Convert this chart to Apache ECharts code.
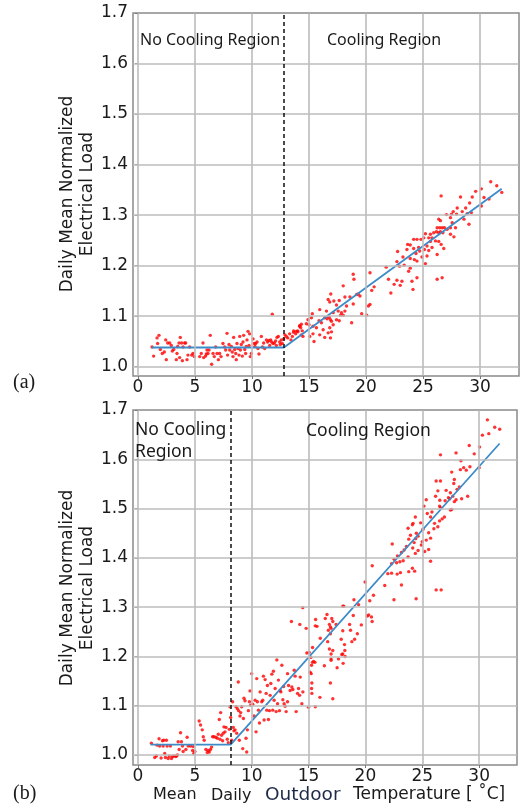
<!DOCTYPE html>
<html><head><meta charset="utf-8">
<script src="https://cdn.jsdelivr.net/npm/echarts@6/dist/echarts.min.js"></script>
<style>html,body{margin:0;padding:0;background:#fff}#c{width:522px;height:812px}</style>
</head><body><div id="c"></div><script>
// tick values
const xTicks = [0, 5, 10, 15, 20, 25, 30];
const yTicks = [1.0, 1.1, 1.2, 1.3, 1.4, 1.5, 1.6, 1.7];

// (a) daily mean outdoor temperature [°C], daily mean normalized load
const topPoints = [
[1.23,1.039],[1.37,1.021],[1.67,1.057],[1.84,1.062],[1.72,1.046],[1.96,1.034],[2.13,1.026],[2.31,1.029],[2.43,1.053],[2.48,1.014],
[2.60,1.047],[2.78,1.047],[2.92,1.042],[3.01,1.031],[3.13,1.034],[3.36,1.014],[3.42,1.026],[3.48,1.040],[3.60,1.047],[3.65,1.018],
[3.71,1.058],[3.83,1.047],[3.89,1.012],[3.95,1.039],[4.09,1.047],[4.18,1.047],[4.30,1.014],[4.38,1.023],[4.53,1.039],[4.71,1.023],
[4.82,1.026],[4.94,1.020],[5.41,1.020],[5.55,1.026],[5.70,1.047],[5.76,1.018],[5.93,1.021],[5.99,1.025],[6.05,1.033],[6.14,1.026],
[6.23,1.033],[6.34,1.062],[6.46,1.005],[6.58,1.026],[6.69,1.020],[6.81,1.039],[6.93,1.026],[7.05,1.014],[7.16,1.026],[7.28,1.020],
[7.45,1.046],[7.60,1.039],[7.69,1.033],[7.81,1.066],[7.86,1.023],[7.98,1.044],[8.04,1.033],[8.19,1.040],[8.27,1.029],[8.33,1.020],
[8.39,1.058],[8.48,1.034],[8.57,1.026],[8.62,1.014],[8.68,1.046],[8.77,1.036],[8.86,1.023],[8.92,1.060],[8.98,1.033],[9.06,1.044],
[9.15,1.021],[9.21,1.049],[9.27,1.062],[9.36,1.034],[9.44,1.026],[9.50,1.040],[9.56,1.053],[9.65,1.070],[9.74,1.042],[9.79,1.065],
[9.85,1.020],[9.94,1.026],[10.09,1.055],[10.20,1.046],[10.26,1.040],[10.32,1.046],[10.44,1.049],[10.52,1.036],[10.61,1.025],[10.82,1.060],
[10.91,1.039],[11.02,1.047],[11.11,1.036],[11.26,1.053],[11.37,1.049],[11.49,1.052],[11.55,1.042],[11.64,1.053],[11.72,1.049],[11.78,1.104],
[11.84,1.046],[11.96,1.047],[12.07,1.051],[12.13,1.042],[12.19,1.058],[12.31,1.060],[12.43,1.049],[12.48,1.044],[12.57,1.053],[12.66,1.046],
[12.78,1.055],[12.89,1.063],[13.01,1.060],[13.13,1.057],[13.30,1.065],[13.42,1.053],[13.54,1.060],[13.65,1.068],[13.83,1.065],[14.00,1.071],
[14.18,1.081],[14.33,1.084],[14.41,1.071],
[30.94,1.366],[31.47,1.358],[31.91,1.345],[30.12,1.352],[29.62,1.347],[28.29,1.336],[29.32,1.336],[26.59,1.338],[30.35,1.335],[29.09,1.324],
[30.79,1.332],[30.12,1.318],[28.74,1.314],[28.00,1.314],[28.44,1.307],[27.65,1.307],[27.50,1.302],[27.06,1.301],[27.94,1.302],[27.41,1.295],
[28.88,1.303],[29.24,1.305],[28.59,1.292],[27.56,1.285],[26.38,1.292],[26.53,1.289],[29.03,1.282],[27.85,1.275],[26.24,1.275],[26.47,1.275],
[26.68,1.275],[26.88,1.275],[27.41,1.275],[27.12,1.272],[26.18,1.267],[26.38,1.265],[26.53,1.267],[26.74,1.265],[25.94,1.265],[27.41,1.262],
[27.71,1.257],[25.65,1.262],[25.21,1.263],[25.50,1.255],[25.79,1.255],[25.06,1.255],[24.82,1.252],[26.09,1.249],[26.38,1.248],[26.59,1.242],
[25.65,1.248],[26.82,1.234],[24.47,1.252],[24.18,1.252],[23.65,1.242],[23.88,1.241],[24.18,1.234],[24.62,1.236],[25.35,1.239],[25.12,1.232],
[25.50,1.230],[25.79,1.236],[26.24,1.222],[24.71,1.229],[24.38,1.224],[24.91,1.217],[25.35,1.219],[23.59,1.232],[22.77,1.228],[23.24,1.217],
[23.88,1.214],[24.24,1.212],[24.47,1.209],[25.21,1.204],[22.71,1.208],[22.94,1.199],[23.35,1.201],[23.88,1.195],[23.74,1.189],[21.77,1.197],
[24.47,1.176],[26.24,1.173],[26.68,1.176],[24.03,1.169],[21.97,1.173],[22.71,1.171],[23.15,1.169],[22.47,1.163],[23.00,1.161],[24.12,1.153],
[22.18,1.146],[18.88,1.183],[18.94,1.173],[18.00,1.160],[20.35,1.186],[20.71,1.158],[20.50,1.151],[19.32,1.144],[19.47,1.140],[19.18,1.143],
[18.59,1.138],[18.15,1.138],[17.65,1.131],[20.35,1.123],[20.21,1.120],[18.88,1.124],[18.29,1.120],[19.62,1.105],[20.06,1.102],[16.91,1.144],
[16.68,1.133],[16.82,1.128],[17.18,1.130],[17.41,1.122],[17.56,1.110],[17.85,1.107],[18.15,1.110],[17.77,1.102],[18.00,1.102],[17.12,1.107],
[16.53,1.110],[16.77,1.098],[16.88,1.093],[16.59,1.095],[16.38,1.097],[15.94,1.113],[15.88,1.091],[15.29,1.105],[15.21,1.097],[14.91,1.093],
[15.00,1.083],[14.77,1.085],[15.35,1.080],[15.65,1.077],[16.24,1.073],[16.82,1.077],[16.68,1.067],[16.97,1.069],[16.88,1.057],[16.38,1.058],
[15.94,1.063],[15.35,1.065],[15.06,1.060],[15.44,1.050],[18.74,1.087],[17.41,1.093],[17.12,1.083],[17.65,1.091],[16.97,1.090],[16.09,1.087],
[14.47,1.060],[14.27,1.077],[14.18,1.080],[14.32,1.063],[14.03,1.069],[13.88,1.070],[13.65,1.071]
];

// (b) daily mean outdoor temperature [°C], daily mean normalized load
const bottomPoints = [
[1.18,1.024],[1.47,0.995],[1.62,0.998],[1.68,1.020],[1.85,1.033],[1.91,1.018],[2.03,0.994],[2.15,1.029],[2.21,1.018],[2.27,1.030],
[2.35,1.003],[2.41,0.995],[2.50,1.030],[2.56,1.018],[2.65,0.993],[2.74,0.998],[2.85,1.018],[2.94,0.993],[3.03,0.997],[3.15,0.998],
[3.32,0.997],[3.38,0.998],[3.47,1.000],[3.53,1.027],[3.62,1.011],[3.74,1.045],[3.82,1.027],[3.91,1.018],[3.97,1.007],[4.21,1.011],
[4.32,1.036],[4.41,1.018],[4.62,1.018],[4.80,1.009],[4.85,1.017],[4.91,1.003],[5.00,1.007],[5.38,1.069],[5.50,1.061],[5.65,1.051],
[5.74,1.037],[5.82,1.030],[5.97,1.011],[6.09,1.005],[6.18,1.009],[6.27,1.006],[6.38,1.011],[6.47,1.016],[6.56,1.037],[6.68,1.037],
[6.85,1.036],[6.97,1.034],[7.06,1.042],[7.15,1.072],[7.21,1.032],[7.27,1.086],[7.35,1.040],[7.44,1.029],[7.50,1.044],[7.56,1.057],
[7.65,1.047],[7.74,1.056],[7.85,1.032],[7.94,1.025],[8.03,1.052],[8.09,1.098],[8.15,1.076],[8.24,1.030],[8.32,1.108],[8.38,1.056],
[8.44,1.049],[8.53,1.051],[8.62,1.098],[8.68,1.044],[8.74,1.094],[8.82,1.148],[8.85,1.090],[8.91,1.030],[8.97,1.079],[9.03,1.086],
[9.12,1.098],[9.21,1.013],[9.27,1.074],[9.32,1.115],[9.41,1.110],[9.50,1.034],[9.56,1.006],[9.62,1.051],[9.71,1.090],[9.80,1.108],
[9.85,1.130],[9.91,1.101],[10.00,1.165],[10.09,1.103],[10.21,1.079],[10.30,1.111],[10.38,1.047],[10.44,1.155],[10.50,1.108],[10.59,1.091],
[10.68,1.065],[10.74,1.128],[10.88,1.108],[10.97,1.111],[11.03,1.160],[11.09,1.071],[11.18,1.153],[11.27,1.125],[11.32,1.091],[11.38,1.141],
[11.47,1.072],[11.56,1.090],[11.62,1.121],[11.68,1.145],[11.77,1.164],[11.85,1.091],[11.91,1.170],[11.97,1.111],[12.06,1.135],[12.15,1.088],
[12.21,1.193],[12.27,1.104],[12.35,1.152],[12.44,1.090],[12.50,1.131],[12.56,1.128],[12.65,1.182],[12.74,1.112],[12.80,1.139],[12.85,1.104],
[12.94,1.099],[13.03,1.088],[13.15,1.165],[13.15,1.108],[13.24,1.141],[13.38,1.131],[13.53,1.138],[13.62,1.133],[13.74,1.172],[13.82,1.160],
[13.91,1.088],[14.03,1.125],[14.12,1.135],[14.21,1.121],[14.27,1.158],[14.41,1.104],[14.50,1.128],
[14.49,1.299],[13.49,1.271],[14.23,1.265],[14.79,1.257],[15.62,1.275],[15.59,1.262],[15.74,1.261],[16.03,1.237],[16.47,1.277],[16.62,1.285],
[17.04,1.277],[17.13,1.271],[16.83,1.265],[16.92,1.260],[16.98,1.257],[17.42,1.265],[16.74,1.253],[16.92,1.246],[16.68,1.230],[18.01,1.302],
[18.10,1.302],[18.99,1.315],[19.40,1.305],[20.38,1.313],[20.71,1.324],[22.51,1.315],[24.46,1.317],[20.17,1.282],[20.29,1.284],[20.53,1.280],
[20.59,1.271],[19.64,1.264],[18.93,1.283],[18.61,1.265],[18.69,1.253],[18.01,1.252],[19.29,1.246],[17.87,1.235],[19.05,1.235],[18.81,1.230],
[18.16,1.224],[16.83,1.215],[16.98,1.205],[17.13,1.212],[18.01,1.205],[17.92,1.204],[18.19,1.212],[18.22,1.200],[17.63,1.195],[16.98,1.195],
[16.98,1.192],[16.39,1.181],[17.51,1.177],[18.04,1.186],[15.44,1.190],[15.56,1.188],[15.35,1.188],[15.20,1.198],[15.05,1.208],[14.85,1.207],
[15.35,1.218],[15.26,1.182],[15.14,1.168],[15.23,1.165],[15.29,1.146],[15.26,1.135],[15.29,1.125],[16.92,1.146],[17.13,1.114],[16.00,1.117],
[15.59,1.098],[15.00,1.097],[20.60,1.384],[19.97,1.351],[21.70,1.344],[21.97,1.368],
[30.73,1.680],[31.37,1.665],[31.81,1.661],[30.85,1.652],[30.29,1.649],[29.13,1.628],[30.03,1.625],[26.60,1.609],[27.97,1.613],[29.57,1.611],
[28.40,1.597],[29.19,1.585],[28.64,1.583],[28.35,1.579],[28.87,1.578],[27.59,1.574],[30.00,1.583],[26.22,1.556],[26.60,1.556],[27.82,1.559],
[27.77,1.551],[28.26,1.544],[26.37,1.536],[27.10,1.537],[28.06,1.539],[27.47,1.532],[28.99,1.525],[27.68,1.525],[28.46,1.520],[26.17,1.525],
[25.35,1.518],[27.30,1.522],[26.54,1.517],[27.01,1.516],[27.97,1.518],[27.42,1.520],[27.82,1.514],[26.52,1.505],[26.60,1.502],[25.15,1.505],
[27.59,1.498],[27.47,1.497],[25.85,1.493],[26.95,1.483],[26.75,1.479],[26.52,1.475],[25.73,1.483],[25.44,1.490],[24.39,1.483],[24.19,1.470],
[24.13,1.467],[23.75,1.460],[24.86,1.471],[25.06,1.458],[26.08,1.470],[26.37,1.463],[26.02,1.459],[25.56,1.451],[24.48,1.450],[23.96,1.446],
[24.63,1.444],[24.42,1.439],[23.81,1.438],[25.35,1.436],[25.00,1.433],[25.73,1.440],[24.28,1.431],[23.61,1.423],[23.40,1.416],[24.16,1.420],
[24.92,1.426],[25.56,1.417],[25.21,1.413],[24.63,1.415],[24.39,1.409],[23.17,1.411],[22.82,1.404],[23.75,1.402],[23.32,1.394],[22.53,1.397],
[22.74,1.390],[23.03,1.392],[22.30,1.388],[25.73,1.393],[24.13,1.379],[24.33,1.373],[23.81,1.372],[23.08,1.370],[22.79,1.367],[22.36,1.428],
[22.30,1.369],[23.17,1.345],[26.22,1.335],[26.66,1.335]
];

// piecewise-linear fits and change points
const topFit = [[1.2, 1.038], [12.8, 1.038], [31.9, 1.352]];
const bottomFit = [[1.1, 1.021], [8.15, 1.021], [31.8, 1.632]];
const topBreak = 12.8;
const bottomBreak = 8.15;

// axis ranges
const xMin = -0.44;
const topRange = {xMax: 33.42, yMin: 0.9816, yMax: 1.7};
const bottomRange = {xMax: 33.33, yMin: 0.9797, yMax: 1.7};

const chart = echarts.init(document.getElementById('c'), null, {renderer: 'canvas'});

function xAxisCfg(gi, r) {
  return {
    type: 'value', gridIndex: gi, min: xMin, max: r.xMax,
    axisLine: {show: false},
    axisTick: {show: true, customValues: xTicks, length: 3, lineStyle: {color: '#777', width: 1}},
    axisLabel: {customValues: xTicks, fontFamily: 'DejaVu Sans', fontSize: 17, color: '#1a1a1a', margin: 3},
    splitLine: {show: false}
  };
}
function yAxisCfg(gi, r) {
  return {
    type: 'value', gridIndex: gi, min: r.yMin, max: r.yMax,
    axisLine: {show: false},
    axisTick: {show: true, customValues: yTicks, length: 3, lineStyle: {color: '#777', width: 1}},
    axisLabel: {customValues: yTicks, fontFamily: 'DejaVu Sans', fontSize: 17, color: '#1a1a1a', margin: 5,
      formatter: v => v.toFixed(1)},
    splitLine: {show: false}
  };
}
// grid lines at every tick plus the dashed change-point line
const gridLineStyle = {type: 'solid', color: '#bcbcbc', width: 1.6, opacity: 1};
function refLines(breakX, r) {
  const y0 = r.yMin + 0.001, y1 = r.yMax - 0.001, x0 = xMin + 0.02, x1 = r.xMax - 0.02;
  const items = xTicks.map(v => [{xAxis: v, yAxis: y0}, {xAxis: v, yAxis: y1}])
    .concat(yTicks.slice(0, 7).map(v => [{xAxis: x0, yAxis: v}, {xAxis: x1, yAxis: v}]));
  items.forEach(p => { p[0].lineStyle = gridLineStyle; });
  items.push({xAxis: breakX, lineStyle: {type: [4, 3], color: '#111', width: 1.5, opacity: 1}});
  return {
    silent: true, symbol: ['none', 'none'], label: {show: false},
    lineStyle: {opacity: 1}, data: items
  };
}

const ylabel = 'Daily Mean Normalized\nElectrical Load';
const txt = (x, y, text, font, extra) => Object.assign({
  type: 'text', x: x, y: y, silent: true, z: 20,
  style: Object.assign({text: text, fill: '#1a1a1a', textVerticalAlign: 'middle'}, font)
}, extra || {});

chart.setOption({
  animation: false,
  backgroundColor: '#fff',
  grid: [
    {left: 133, top: 13, width: 386, height: 363, show: true, backgroundColor: 'transparent', borderColor: '#8a8a8a', borderWidth: 1.5},
    {left: 133, top: 410, width: 384, height: 355, show: true, backgroundColor: 'transparent', borderColor: '#8a8a8a', borderWidth: 1.5}
  ],
  xAxis: [xAxisCfg(0, topRange), xAxisCfg(1, bottomRange)],
  yAxis: [yAxisCfg(0, topRange), yAxisCfg(1, bottomRange)],
  series: [
    {type: 'scatter', xAxisIndex: 0, yAxisIndex: 0, data: topPoints, symbolSize: 3.4,
      itemStyle: {color: '#ff0000'}, z: 2},
    {type: 'line', xAxisIndex: 0, yAxisIndex: 0, data: topFit, symbol: 'none',
      lineStyle: {color: '#3d8cc9', width: 1.8}, z: 3, markLine: refLines(topBreak, topRange)},
    {type: 'scatter', xAxisIndex: 1, yAxisIndex: 1, data: bottomPoints, symbolSize: 3.4,
      itemStyle: {color: '#ff0000'}, z: 2},
    {type: 'line', xAxisIndex: 1, yAxisIndex: 1, data: bottomFit, symbol: 'none',
      lineStyle: {color: '#3d8cc9', width: 1.8}, z: 3, markLine: refLines(bottomBreak, bottomRange)}
  ],
  graphic: [
    txt(78, 194, ylabel, {fontFamily: 'DejaVu Sans', fontSize: 17, textAlign: 'center', lineHeight: 20}, {rotation: Math.PI / 2}),
    txt(78, 588, ylabel, {fontFamily: 'DejaVu Sans', fontSize: 17, textAlign: 'center', lineHeight: 20}, {rotation: Math.PI / 2}),
    txt(140, 40, 'No Cooling Region', {fontFamily: 'Noto Sans', fontSize: 16, textAlign: 'left'}),
    txt(327, 40, 'Cooling Region', {fontFamily: 'Noto Sans', fontSize: 16, textAlign: 'left'}),
    txt(135, 441, 'No Cooling\nRegion', {fontFamily: 'Noto Sans', fontSize: 17.5, textAlign: 'left', lineHeight: 22}),
    txt(306, 431, 'Cooling Region', {fontFamily: 'Noto Sans', fontSize: 17.5, textAlign: 'left'}),
    txt(13, 383, '(a)', {fontFamily: 'Liberation Serif', fontSize: 20, textAlign: 'left'}),
    txt(13, 794, '(b)', {fontFamily: 'Liberation Serif', fontSize: 20, textAlign: 'left'}),
    txt(153, 795, 'Mean', {fontFamily: 'DejaVu Sans', fontSize: 16, textAlign: 'left'}),
    txt(211, 796, 'Daily', {fontFamily: 'DejaVu Sans', fontSize: 16, textAlign: 'left'}),
    txt(265, 795, 'Outdoor', {fontFamily: 'DejaVu Sans', fontSize: 18.5, textAlign: 'left', fill: '#1d2b48'}),
    txt(353, 795, 'Temperature [ \u02DAC]', {fontFamily: 'DejaVu Sans', fontSize: 17, textAlign: 'left'})
  ]
});
</script></body></html>
